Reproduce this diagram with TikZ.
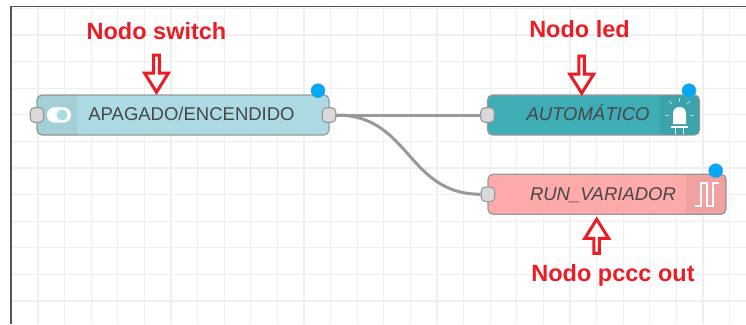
\documentclass[tikz,border=0pt]{standalone}
\usepackage{fontspec}
\setmainfont{Liberation Sans}
\usetikzlibrary{shapes.arrows}

\definecolor{swfill}{HTML}{ACDBE3}
\definecolor{ledfill}{HTML}{3FADB5}
\definecolor{pcfill}{HTML}{FFAAAA}
\definecolor{portfill}{HTML}{D9D9D9}
\definecolor{noderim}{HTML}{999999}
\definecolor{dotblue}{HTML}{00A9F5}
\definecolor{notered}{HTML}{ED1C24}
\definecolor{gridgrey}{HTML}{EFEFEF}
\definecolor{framegrey}{HTML}{555555}

\tikzset{
  gridline/.style={draw=gridgrey,line width=1.2pt},
  framing/.style={draw=framegrey,line width=1.6pt},
  flownode/.style={draw=noderim,line width=1.2pt,rounded corners=5pt,minimum height=40pt,inner sep=0pt},
  iconshade/.style={fill=black,fill opacity=.05},
  flowtext/.style={font=\fontsize{18.5}{22}\selectfont,text=black!72,anchor=base,inner sep=0pt},
  port/.style={draw=noderim,fill=portfill,line width=1.1pt,rounded corners=4pt,minimum width=13.5pt,minimum height=14.5pt,inner sep=0pt},
  status/.style={circle,fill=dotblue,draw=noderim!60!dotblue,line width=.5pt,minimum size=14pt,inner sep=0pt},
  wire/.style={draw=noderim,line width=3pt},
  note/.style={font=\fontsize{23.5}{28}\selectfont\bfseries,text=notered,anchor=base,inner sep=0pt},
  blockarrow/.style={single arrow,draw=notered,fill=white,line width=3pt,inner sep=0pt,minimum width=24pt,
    minimum height=37pt,single arrow head extend=5pt,single arrow tip angle=64},
  glyph/.style={draw=white,line width=2.8pt},
  ray/.style={draw=white,draw opacity=.6,line width=1pt}
}

\begin{document}
\begin{tikzpicture}[x=1pt,y=-1pt]
  \useasboundingbox[fill=white] (0,0) rectangle (746,324);
  \foreach \col in {0,...,27}
    \draw[gridline] ({11.4+26.6*\col},6.5) -- ({11.4+26.6*\col},324);
  \foreach \row in {0,...,11}
    \draw[gridline] (10.7,{8.4+26.6*\row}) -- (746,{8.4+26.6*\row});
  \draw[framing] (10.7,324) -- (10.7,6.5) -- (746,6.5);

  % flow nodes
  \node[flownode,fill=swfill,minimum width=292pt] (sw) at (183,115) {};
  \node[flownode,fill=ledfill,minimum width=212pt] (led) at (593.5,115) {};
  \node[flownode,fill=pcfill,minimum width=238pt] (pc) at (607,194.3) {};
  \fill[iconshade] (77,95) [rounded corners=5pt] -- (37,95) -- (37,135) [sharp corners] -- (77,135) -- cycle;
  \fill[iconshade] (660,95) [rounded corners=5pt] -- (699.5,95) -- (699.5,135) [sharp corners] -- (660,135) -- cycle;
  \fill[iconshade] (686,174.3) [rounded corners=5pt] -- (726,174.3) -- (726,214.3) [sharp corners] -- (686,214.3) -- cycle;
  \node[flowtext] (sw-txt) at (191.5,120.7) {APAGADO/ENCENDIDO};
  \node[flowtext,font=\fontsize{18.5}{22}\selectfont\itshape] (led-txt) at (588,120.7) {AUTOMÁTICO};
  \node[flowtext,font=\fontsize{18.5}{22}\selectfont\itshape] (pc-txt) at (603,200.3) {RUN\_VARIADOR};

  % icons
  \fill[white,rounded corners=7.5pt] (47,107.3) rectangle (71,122.7);
  \fill[swfill] (62,115) circle (5.5);
  \fill[white] (673,124) -- (673,113.5) .. controls (673,109) and (676,107) .. (679.5,107) .. controls (683,107) and (686,109) .. (686,113.5) -- (686,124) -- cycle;
  \draw[glyph,line width=1.5pt] (671,127) -- (688,127) (675.5,127) -- (675.5,134) (683.5,127) -- (683.5,134);
  \foreach \ax/\ay/\bx/\by in {665/115.7/669/115.7, 690/115.7/694/115.7, 679.5/98/679.5/102, 669/101/672/104, 690/101/687/104}
    \draw[ray] (\ax,\ay) -- (\bx,\by);
  \draw[glyph] (695,206) -- (701,206) -- (701,183) -- (707,183) -- (707,206) -- (713,206) -- (713,183) -- (719,183);

  % ports and status dots
  \node[port] (sw-in) at (37,115) {};
  \node[port] (sw-out) at (329,115) {};
  \node[port] (led-in) at (487.5,115) {};
  \node[port] (pc-in) at (488,194.3) {};
  \node[status] (sw-dot) at (318,90.7) {};
  \node[status] (led-dot) at (689,90.7) {};
  \node[status] (pc-dot) at (715.7,170.7) {};

  \path[wire]
    (sw-out) edge (led-in)
    (sw-out) edge[out=0,in=180,looseness=1.15] (pc-in);

  % notes
  \node[note] (sw-note) at (156.5,39.3) {Nodo switch};
  \node[note] (led-note) at (579.5,37.3) {Nodo led};
  \node[note] (pc-note) at (613,281.3) {Nodo pccc out};
  \node[blockarrow,rotate=-90] (sw-arrow) at (156.5,71.5) {};
  \node[blockarrow,rotate=-90] (led-arrow) at (581.7,72.5) {};
  \node[blockarrow,rotate=90,minimum height=34pt] (pc-arrow) at (596.7,238.5) {};
\end{tikzpicture}
\end{document}
